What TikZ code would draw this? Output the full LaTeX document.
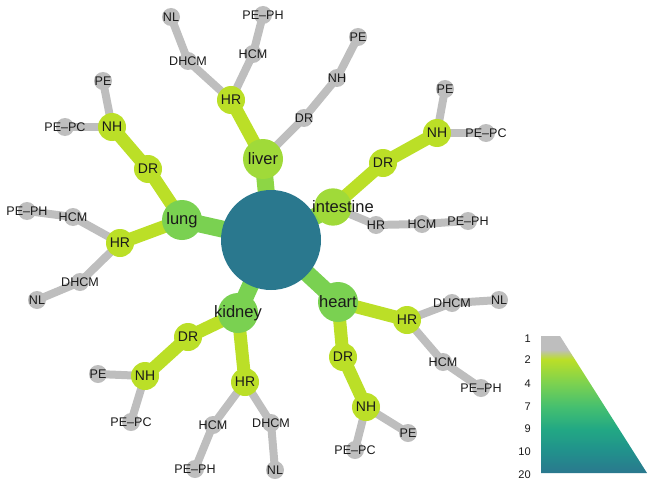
\documentclass[tikz,border=0pt]{standalone}
\usepackage{fontspec}
\setmainfont{Liberation Sans}
\usetikzlibrary{backgrounds}

% palette
\definecolor{hubc}{HTML}{2A788E}
\definecolor{orgA}{HTML}{7AD151}
\definecolor{orgB}{HTML}{A0DA39}
\definecolor{stemB}{HTML}{8DD645}
\definecolor{lvl}{HTML}{BBDF27}
\definecolor{leafc}{HTML}{BEBEBE}
\definecolor{txt}{HTML}{1A1A1A}
% colour ramp of the key
\definecolor{k20}{HTML}{2A788E}
\definecolor{k10}{HTML}{21918C}
\definecolor{k9}{HTML}{22A884}
\definecolor{k7}{HTML}{44BF70}
\definecolor{k4}{HTML}{7AD151}
\definecolor{k2}{HTML}{BBDF27}
\definecolor{k1}{HTML}{BEBEBE}
\pgfdeclareverticalshading{keyramp}{100bp}{%
  color(0bp)=(k20); color(25bp)=(k20); color(33bp)=(k10); color(41bp)=(k9);
  color(49bp)=(k7); color(57.5bp)=(k4); color(66.5bp)=(k2); color(70bp)=(k1);
  color(75bp)=(k1); color(100bp)=(k1)}

\tikzset{
  hubnode/.style={circle, fill=hubc, inner sep=0pt, minimum size=75pt},
  organ/.style 2 args={circle, fill=#1, inner sep=0pt, minimum size=30pt,
    label={[organtext]center:#2}},
  midnode/.style={circle, fill=lvl, inner sep=0pt, minimum size=21pt,
    label={[midtext]center:#1}},
  leaf/.style={circle, fill=leafc, inner sep=0pt, minimum size=13.5pt,
    label={[leaftext]center:#1}},
  organtext/.style={font=\fontsize{12.4}{14}\selectfont, text=txt, inner sep=0pt},
  midtext/.style={font=\fontsize{10.5}{12}\selectfont, text=txt, inner sep=0pt},
  leaftext/.style={font=\fontsize{9.4}{11}\selectfont, text=txt, inner sep=0pt},
  keytext/.style={font=\fontsize{8.3}{10}\selectfont, text=txt, inner sep=0pt, anchor=east},
  stem/.style={line width=12.75pt, draw=#1},
  branch/.style={line width=9.75pt, draw=lvl},
  twig/.style={line width=6pt, draw=leafc},
}

\begin{document}
\begin{tikzpicture}[x=0.75pt, y=-0.75pt]
\useasboundingbox (0,0) rectangle (648,481);

% centre
\node[hubnode] (hub) at (271,240) {};

% organs
\node[organ={orgB}{liver}] (liver) at (263,159) {};
\node[circle, fill=orgB, inner sep=0pt, minimum size=28pt,
      label={[organtext, xshift=7.5pt]center:intestine}] (intest) at (333,207) {};
\node[organ={orgA}{heart}] (heart) at (338,302) {};
\node[organ={orgA}{kidney}] (kidney) at (238,313) {};
\node[organ={orgA}{lung}] (lung) at (182,220) {};

% liver branch
\node[midnode=HR] (lvHR) at (231,100) {};
\node[leaf=HCM] (lvHCM) at (253,54) {};
\node[leaf=PE–PH] (lvPEPH) at (263,15) {};
\node[leaf=DHCM] (lvDHCM) at (188,61) {};
\node[leaf=NL] (lvNL) at (171,17) {};
\node[leaf=DR] (lvDR) at (304,118) {};
\node[leaf=NH] (lvNH) at (337,78) {};
\node[leaf=PE] (lvPE) at (358,37) {};

% intestine branch
\node[midnode=DR] (inDR) at (383,163) {};
\node[midnode=NH] (inNH) at (437,133) {};
\node[leaf=PE] (inPE) at (445,89) {};
\node[leaf=PE–PC] (inPEPC) at (486,133) {};
\node[leaf=HR] (inHR) at (376,225) {};
\node[leaf=HCM] (inHCM) at (422,224) {};
\node[leaf=PE–PH] (inPEPH) at (468,221) {};

% heart branch
\node[midnode=HR] (hHR) at (407,320) {};
\node[leaf=DHCM] (hDHCM) at (452,303) {};
\node[leaf=NL] (hNL) at (499,300) {};
\node[leaf=HCM] (hHCM) at (443,362) {};
\node[leaf=PE–PH] (hPEPH) at (481,388) {};
\node[midnode=DR] (hDR) at (343,357) {};
\node[midnode=NH] (hNH) at (366,407) {};
\node[leaf=PE] (hPE) at (408,433) {};
\node[leaf=PE–PC] (hPEPC) at (355,450) {};

% kidney branch
\node[midnode=DR] (kDR) at (188,337) {};
\node[midnode=NH] (kNH) at (145,376) {};
\node[leaf=PE] (kPE) at (98,374) {};
\node[leaf=PE–PC] (kPEPC) at (131,422) {};
\node[midnode=HR] (kHR) at (245,382) {};
\node[leaf=HCM] (kHCM) at (213,425) {};
\node[leaf=PE–PH] (kPEPH) at (195,469) {};
\node[leaf=DHCM] (kDHCM) at (271,423) {};
\node[leaf=NL] (kNL) at (275,470) {};

% lung branch
\node[midnode=DR] (luDR) at (148,169) {};
\node[midnode=NH] (luNH) at (112,127) {};
\node[leaf=PE] (luPE) at (103,81) {};
\node[leaf=PE–PC] (luPEPC) at (65,127) {};
\node[midnode=HR] (luHR) at (120,243) {};
\node[leaf=HCM] (luHCM) at (73,217) {};
\node[leaf=PE–PH] (luPEPH) at (27,211) {};
\node[leaf=DHCM] (luDHCM) at (80,282) {};
\node[leaf=NL] (luNL) at (37,300) {};

% connectors, behind the circles
\begin{scope}[on background layer]
  \draw[stem=stemB] (hub.center) -- (liver.center);
  \draw[stem=stemB] (hub.center) -- (intest.center);
  \draw[stem=orgA] (hub.center) -- (heart.center);
  \draw[stem=orgA] (hub.center) -- (kidney.center);
  \draw[stem=orgA] (hub.center) -- (lung.center);

  \draw[branch] (liver.center) -- (lvHR.center);
  \draw[twig] (lvHR.center) -- (lvHCM.center) -- (lvPEPH.center);
  \draw[twig] (lvHR.center) -- (lvDHCM.center) -- (lvNL.center);
  \draw[twig] (liver.center) -- (lvDR.center) -- (lvNH.center) -- (lvPE.center);

  \draw[branch] (intest.center) -- (inDR.center) -- (inNH.center);
  \draw[twig] (inNH.center) -- (inPE.center);
  \draw[twig] (inNH.center) -- (inPEPC.center);
  \draw[twig] (intest.center) -- (inHR.center) -- (inHCM.center) -- (inPEPH.center);

  \draw[branch] (heart.center) -- (hHR.center);
  \draw[twig] (hHR.center) -- (hDHCM.center) -- (hNL.center);
  \draw[twig] (hHR.center) -- (hHCM.center) -- (hPEPH.center);
  \draw[branch] (heart.center) -- (hDR.center) -- (hNH.center);
  \draw[twig] (hNH.center) -- (hPE.center);
  \draw[twig] (hNH.center) -- (hPEPC.center);

  \draw[branch] (kidney.center) -- (kDR.center) -- (kNH.center);
  \draw[twig] (kNH.center) -- (kPE.center);
  \draw[twig] (kNH.center) -- (kPEPC.center);
  \draw[branch] (kidney.center) -- (kHR.center);
  \draw[twig] (kHR.center) -- (kHCM.center) -- (kPEPH.center);
  \draw[twig] (kHR.center) -- (kDHCM.center) -- (kNL.center);

  \draw[branch] (lung.center) -- (luDR.center) -- (luNH.center);
  \draw[twig] (luNH.center) -- (luPE.center);
  \draw[twig] (luNH.center) -- (luPEPC.center);
  \draw[branch] (lung.center) -- (luHR.center);
  \draw[twig] (luHR.center) -- (luHCM.center) -- (luPEPH.center);
  \draw[twig] (luHR.center) -- (luDHCM.center) -- (luNL.center);
\end{scope}

% colour key
\shade[shading=keyramp] (541,336) -- (560,336) -- (647,473) -- (541,473) -- cycle;
\node[keytext] (key1) at (531,339) {1};
\node[keytext] (key2) at (531,360) {2};
\node[keytext] (key4) at (531,384) {4};
\node[keytext] (key7) at (531,407) {7};
\node[keytext] (key9) at (531,429) {9};
\node[keytext] (key10) at (531,452) {10};
\node[keytext] (key20) at (531,475) {20};
\end{tikzpicture}
\end{document}
